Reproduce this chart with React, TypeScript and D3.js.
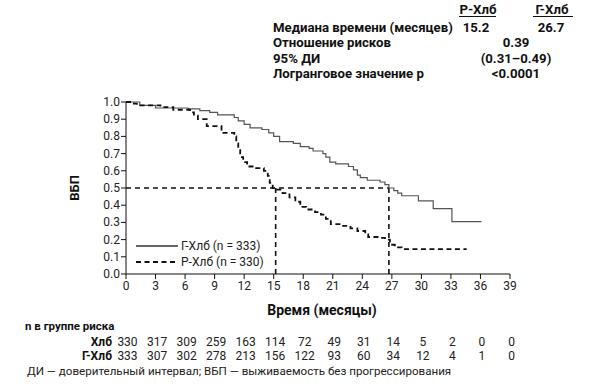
import React from "react";
import * as d3 from "d3";

const xTicks = [0, 3, 6, 9, 12, 15, 18, 21, 24, 27, 30, 33, 36, 39];
const yTicks = [0, 0.1, 0.2, 0.3, 0.4, 0.5, 0.6, 0.7, 0.8, 0.9, 1.0];

// Г-Хлб (solid)
const ghlbT = [0, 1.4, 3.0, 6.3, 7.5, 8.5, 9.3, 11.0, 11.4, 12.0, 12.6, 13.8, 14.5, 15.0, 15.6, 17.0, 17.7, 18.6, 19.0, 20.0, 20.3, 20.7, 21.3, 22.6, 23.1, 23.5, 23.8, 24.5, 25.8, 26.3, 26.7, 27.2, 27.6, 28.0, 29.7, 31.2, 33.1, 36.1];
const ghlbS = [1.0, 0.98, 0.965, 0.96, 0.95, 0.94, 0.925, 0.91, 0.89, 0.87, 0.85, 0.84, 0.82, 0.80, 0.77, 0.76, 0.74, 0.73, 0.715, 0.70, 0.68, 0.65, 0.64, 0.625, 0.605, 0.575, 0.56, 0.545, 0.535, 0.52, 0.50, 0.485, 0.47, 0.455, 0.425, 0.38, 0.305, 0.305];

// Р-Хлб (dashed)
const rhlbT = [0, 0.8, 1.1, 3.5, 4.8, 6.5, 6.9, 7.3, 8.2, 9.7, 11.0, 11.2, 11.4, 11.6, 11.9, 12.3, 13.0, 14.0, 14.4, 14.6, 14.9, 15.3, 15.9, 16.6, 17.2, 17.7, 18.3, 19.2, 19.8, 20.3, 20.8, 21.8, 22.8, 23.5, 24.3, 24.6, 25.8, 26.3, 26.8, 27.3, 28.0, 34.6];
const rhlbS = [1.0, 0.99, 0.98, 0.97, 0.955, 0.94, 0.92, 0.90, 0.86, 0.82, 0.80, 0.76, 0.72, 0.68, 0.65, 0.625, 0.615, 0.60, 0.57, 0.53, 0.50, 0.49, 0.47, 0.445, 0.42, 0.39, 0.375, 0.36, 0.345, 0.32, 0.29, 0.28, 0.265, 0.25, 0.23, 0.215, 0.21, 0.20, 0.17, 0.155, 0.145, 0.145];

const medianR = 15.2;
const medianG = 26.7;

const riskHlb = [330, 317, 309, 259, 163, 114, 72, 49, 31, 14, 5, 2, 0, 0];
const riskGHlb = [333, 307, 302, 278, 213, 156, 122, 93, 60, 34, 12, 4, 1, 0];

const headerCols = ["Р-Хлб", "Г-Хлб"];
const headerRows = ["Медиана времени (месяцев)", "Отношение рисков", "95% ДИ", "Логранговое значение p"];
const medianVals = ["15.2", "26.7"];
const sharedVals = ["0.39", "(0.31–0.49)", "<0.0001"];

const legendLabels = ["Г-Хлб (n = 333)", "Р-Хлб (n = 330)"];

export default function App() {
  const x = d3.scaleLinear().domain([0, 39]).range([126, 510]);
  const y = d3.scaleLinear().domain([0, 1]).range([274, 102]);
  const line = d3
    .line<[number, number]>()
    .x((d) => x(d[0]))
    .y((d) => y(d[1]))
    .curve(d3.curveStepAfter);
  const gData = ghlbT.map((t, i) => [t, ghlbS[i]] as [number, number]);
  const rData = rhlbT.map((t, i) => [t, rhlbS[i]] as [number, number]);
  const font = "Roboto, 'Noto Sans', sans-serif";
  const colX = [478, 552];
  const sharedX = 516;
  const rowY = [32, 47, 63, 78];
  const hf = 13.2;

  return (
    <svg width={600} height={384} style={{ position: "absolute", left: 0, top: 0 }} fontFamily={font}>
      <rect width={600} height={384} fill="#fff" />
      {/* header table */}
      {headerCols.map((c, i) => (
        <g key={c}>
          <text x={colX[i]} y={14} fontSize={hf} fontWeight="bold" textAnchor="middle" fill="#111">{c}</text>
        </g>
      ))}
      <line x1={459} x2={496} y1={16.5} y2={16.5} stroke="#111" strokeWidth={1} />
      <line x1={533} x2={573} y1={16.5} y2={16.5} stroke="#111" strokeWidth={1} />
      {headerRows.map((r, i) => (
        <text key={r} x={273} y={rowY[i]} fontSize={hf} fontWeight="bold" fill="#111">{r}</text>
      ))}
      {medianVals.map((v, i) => (
        <text key={v} x={i === 0 ? 476 : 551} y={rowY[0]} fontSize={hf} fontWeight="bold" textAnchor="middle" fill="#111">{v}</text>
      ))}
      {sharedVals.map((v, i) => (
        <text key={v} x={sharedX} y={rowY[i + 1]} fontSize={hf} fontWeight="bold" textAnchor="middle" fill="#111">{v}</text>
      ))}

      {/* axes */}
      <line x1={x(0)} x2={x(39)} y1={y(0)} y2={y(0)} stroke="#111" />
      <line x1={x(0)} x2={x(0)} y1={y(0)} y2={y(1)} stroke="#111" />
      {xTicks.map((t) => (
        <g key={t}>
          <line x1={x(t)} x2={x(t)} y1={y(0)} y2={y(0) + 5} stroke="#111" />
          <text x={x(t)} y={y(0) + 16} fontSize={12} textAnchor="middle" fill="#222">{t}</text>
        </g>
      ))}
      {yTicks.map((t) => (
        <g key={t}>
          <line x1={x(0) - 5} x2={x(0)} y1={y(t)} y2={y(t)} stroke="#111" />
          <text x={x(0) - 6} y={y(t) + 4} fontSize={12} textAnchor="end" fill="#222">{t.toFixed(1)}</text>
        </g>
      ))}
      <text transform={`translate(79,${y(0.5)}) rotate(-90)`} fontSize={13} fontWeight="bold" textAnchor="middle" fill="#111">ВБП</text>
      <text x={322} y={315} fontSize={14} fontWeight="bold" textAnchor="middle" fill="#111">Время (месяцы)</text>

      {/* median lines */}
      <path
        d={`M${x(0)},${y(0.5)}H${x(medianG)}M${x(medianR)},${y(0.5)}V${y(0)}M${x(medianG)},${y(0.5)}V${y(0)}`}
        fill="none"
        stroke="#111"
        strokeWidth={1.6}
        strokeDasharray="5,4"
      />

      {/* curves */}
      <path d={line(gData) || ""} fill="none" stroke="#555" strokeWidth={1.2} />
      <path d={line(rData) || ""} fill="none" stroke="#111" strokeWidth={1.8} strokeDasharray="5,3.5" />

      {/* legend */}
      <line x1={136} x2={178} y1={246} y2={246} stroke="#333" strokeWidth={1.3} />
      <text x={181} y={250} fontSize={12} fill="#222">{legendLabels[0]}</text>
      <line x1={136} x2={178} y1={262} y2={262} stroke="#111" strokeWidth={1.8} strokeDasharray="5,3.5" />
      <text x={181} y={266} fontSize={12} fill="#222">{legendLabels[1]}</text>

      {/* risk table */}
      <text x={25} y={330} fontSize={11.5} fontWeight="bold" fill="#111">n в группе риска</text>
      <text x={112} y={345.5} fontSize={12} fontWeight="bold" textAnchor="end" fill="#111">Хлб</text>
      <text x={112} y={359.5} fontSize={12} fontWeight="bold" textAnchor="end" fill="#111">Г-Хлб</text>
      {riskHlb.map((v, i) => (
        <text key={"a" + i} x={x(xTicks[i]) + 1.5} y={345.5} fontSize={12} textAnchor="middle" fill="#222">{v}</text>
      ))}
      {riskGHlb.map((v, i) => (
        <text key={"b" + i} x={x(xTicks[i]) + 1.5} y={359.5} fontSize={12} textAnchor="middle" fill="#222">{v}</text>
      ))}
      <text x={27} y={375} fontSize={11.6} fill="#222">ДИ — доверительный интервал; ВБП — выживаемость без прогрессирования</text>
    </svg>
  );
}
